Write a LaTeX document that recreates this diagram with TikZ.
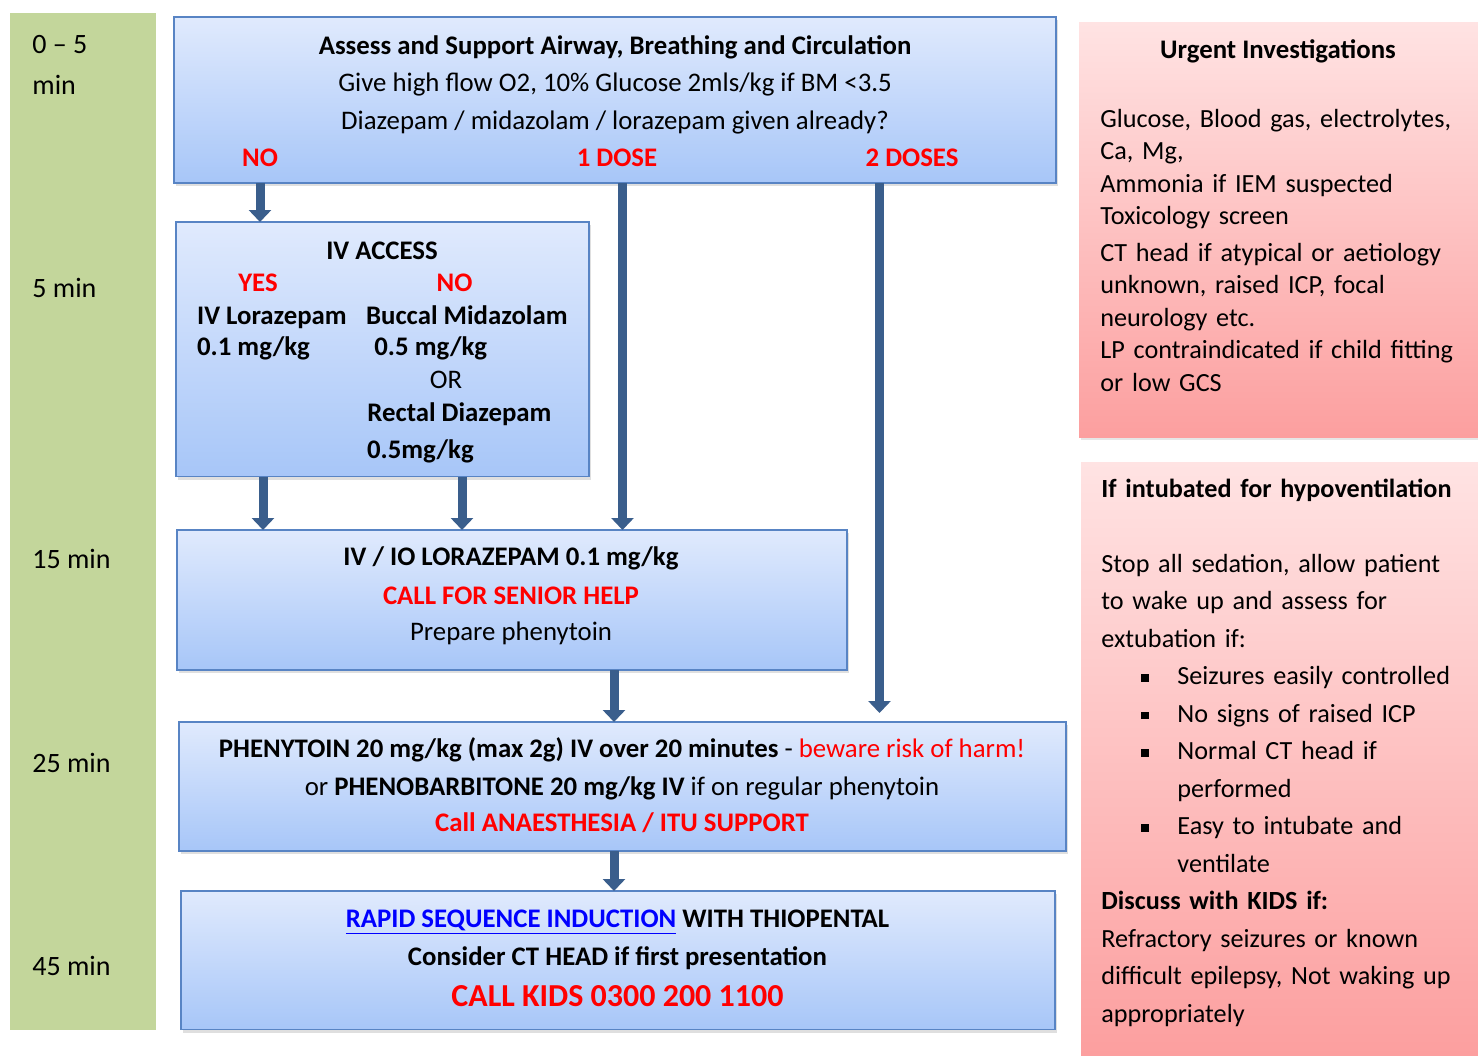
\documentclass[tikz,border=0pt]{standalone}
\usepackage{fontspec}
\setmainfont{Carlito}
\usetikzlibrary{arrows.meta,shadows}

\definecolor{timegreen}{HTML}{C3D69B}
\definecolor{boxtop}{HTML}{E0EAFD}
\definecolor{boxbot}{HTML}{A7C6F8}
\definecolor{boxline}{HTML}{5884C4}
\definecolor{pinktop}{HTML}{FFE3E3}
\definecolor{pinkbot}{HTML}{FC9F9F}
\definecolor{flowcol}{HTML}{3A5E8C}
\definecolor{alertred}{HTML}{FF0000}
\definecolor{linkblue}{HTML}{0000FF}

\newcommand{\sqbul}{\hspace*{20pt}\rule[1.4pt]{3.8pt}{3.8pt}\hspace*{14.2pt}}
\newcommand{\sqind}{\hspace*{38pt}}

\tikzset{
  stepbox/.style={draw=boxline, line width=0.8pt, top color=boxtop, bottom color=boxbot,
    anchor=north west, inner sep=0pt, outer sep=0pt,
    drop shadow={shadow xshift=1pt, shadow yshift=-1.5pt, opacity=0.25}},
  notebox/.style={top color=pinktop, bottom color=pinkbot,
    anchor=north west, inner sep=0pt, outer sep=0pt,
    drop shadow={shadow xshift=1pt, shadow yshift=-1.5pt, opacity=0.2}},
  flowarrow/.style={color=flowcol, line width=4.5pt, -{Triangle[width=11pt,length=6pt]}},
  txt/.style={inner sep=0pt, anchor=base, font=\fontsize{13.4}{16}\selectfont},
  txtl/.style={txt, anchor=base west},
  redtxt/.style={text=alertred},
  timetxt/.style={inner sep=0pt, anchor=base west, font=\fontsize{14}{16}\selectfont},
}

\begin{document}
\begin{tikzpicture}[x=0.5pt, y=-0.5pt]
            \useasboundingbox (0,0) rectangle (1478,1055);
            
            % Time column
            \fill [timegreen] (10,13) rectangle (156,1030);%
            \node [timetxt] (t0) at (32,53) {0 -- 5};%
            \node [timetxt] (t0b) at (32,94) {min};%
            \node [timetxt] (t5) at (32,297) {5 min};%
            \node [timetxt] (t15) at (32,568) {15 min};%
            \node [timetxt] (t25) at (32,772) {25 min};%
            \node [timetxt] (t45) at (32,975) {45 min};%
            
            % Drawing box ABC
            \node [stepbox, minimum width=441pt, minimum height=83pt] (abc) at (174,17) {};%
            \node [txt] (abcA) at (615,54) {\bfseries Assess and Support Airway, Breathing and Circulation};%
            \node [txt] (abcB) at (615,91.7) {Give high flow O2, 10\% Glucose 2mls/kg if BM <3.5};%
            \node [txt] (abcC) at (615,129) {Diazepam / midazolam / lorazepam given already?};%
            \node [txt, redtxt] (noLbl) at (260,166) {\bfseries NO};%
            \node [txt, redtxt] (oneLbl) at (617,166) {\bfseries 1 DOSE};%
            \node [txt, redtxt] (twoLbl) at (912,166) {\bfseries 2 DOSES};%
            
            % Drawing box IV access
            \node [stepbox, minimum width=206.5pt, minimum height=127.25pt] (iv) at (176,222) {};%
            \node [txt] (ivA) at (382,259) {\bfseries IV ACCESS};%
            \node [txt, redtxt] (yesLbl) at (258,291) {\bfseries YES};%
            \node [txt, redtxt] (ivNoLbl) at (454.5,291) {\bfseries NO};%
            \node [txtl] (ivLor) at (196.7,324) {\bfseries IV Lorazepam};%
            \node [txtl] (ivBuc) at (365.7,324) {\bfseries Buccal Midazolam};%
            \node [txtl] (ivLorD) at (196.7,355.7) {\bfseries 0.1 mg/kg};%
            \node [txtl] (ivBucD) at (374,355.7) {\bfseries 0.5 mg/kg};%
            \node [txt] (ivOr) at (446,388) {OR};%
            \node [txtl] (ivRec) at (367,421.7) {\bfseries Rectal Diazepam};%
            \node [txtl] (ivRecD) at (366.7,458) {\bfseries 0.5mg/kg};%
            
            % Drawing box lorazepam
            \node [stepbox, minimum width=335pt, minimum height=70pt] (lz) at (177,530) {};%
            \node [txt] (lzA) at (511,565) {\bfseries IV / IO LORAZEPAM 0.1 mg/kg};%
            \node [txt, redtxt] (lzB) at (511,604) {\bfseries CALL FOR SENIOR HELP};%
            \node [txt] (lzC) at (511,640) {Prepare phenytoin};%
            
            % Drawing box phenytoin
            \node [stepbox, minimum width=443.5pt, minimum height=64.5pt] (ph) at (179,722) {};%
            \node [txt] (phA) at (622,757.7) {\textbf{PHENYTOIN 20 mg/kg (max 2g) IV over 20 minutes} - \textcolor{alertred}{beware risk of harm!}};%
            \node [txt] (phB) at (622,795) {or \textbf{PHENOBARBITONE 20 mg/kg IV} if on regular phenytoin};%
            \node [txt, redtxt] (phC) at (622,831.7) {\bfseries Call ANAESTHESIA / ITU SUPPORT};%
            
            % Drawing box RSI
            \node [stepbox, minimum width=437pt, minimum height=69.25pt] (rsi) at (181,891) {};%
            \node [txt] (rsiA) at (617.5,927.7) {\bfseries \textcolor{linkblue}{\underline{RAPID SEQUENCE INDUCTION}} WITH THIOPENTAL};%
            \node [txt] (rsiB) at (617.5,965) {\bfseries Consider CT HEAD if first presentation};%
            \node [txt, redtxt, font=\fontsize{16}{18}\selectfont] (rsiC) at (617.5,1006.7) {\bfseries CALL KIDS 0300 200 1100};%
            
            % Drawing note urgent investigations
            \node [notebox, minimum width=199.5pt, minimum height=207.5pt] (inv) at (1079,22) {};%
            \node [txt] (invA) at (1278,58.3) {\bfseries Urgent Investigations};%
            \node [txtl, text width=190pt, align=left, font=\fontsize{13.1}{16.25}\selectfont] (invB) at (1100,127.3) {Glucose, Blood gas, electrolytes,\\
              Ca, Mg,\\
              Ammonia if IEM suspected\\
              Toxicology screen\\[2pt]
              CT head if atypical or aetiology\\
              unknown, raised ICP, focal\\
              neurology etc.\\
              LP contraindicated if child fitting\\
              or low GCS};%
            
            % Drawing note intubated
            \node [notebox, minimum width=198.5pt, minimum height=296.5pt] (intu) at (1081,462) {};%
            \node [txtl, text width=195pt, align=left, font=\fontsize{13.1}{18.75}\selectfont] (intuA) at (1101,497) {\textbf{If intubated for hypoventilation}\\[18.75pt]
              Stop all sedation, allow patient\\
              to wake up and assess for\\
              extubation if:\\
              \sqbul Seizures easily controlled\\
              \sqbul No signs of raised ICP\\
              \sqbul Normal CT head if\\
              \sqind performed\\
              \sqbul Easy to intubate and\\
              \sqind ventilate\\
              \textbf{Discuss with KIDS if:}\\
              Refractory seizures or known\\
              difficult epilepsy, Not waking up\\
              appropriately};%
            
            % Arrow positions
            \coordinate (xNo) at (260,0);%
            \coordinate (xOne) at (622.5,0);%
            \coordinate (xTwo) at (879.5,0);%
            \coordinate (xYes) at (263,0);%
            \coordinate (xIvNo) at (462,0);%
            \coordinate (xMid) at (614,0);%
            
            % Drawing arrows
            \draw [flowarrow] (xNo |- abc.south) -- (xNo |- iv.north);%
            \draw [flowarrow] (xOne |- abc.south) -- (xOne |- lz.north);%
            \draw [flowarrow, shorten >=4.5pt] (xTwo |- abc.south) -- (xTwo |- ph.north);%
            \draw [flowarrow] (xYes |- iv.south) -- (xYes |- lz.north);%
            \draw [flowarrow] (xIvNo |- iv.south) -- (xIvNo |- lz.north);%
            \draw [flowarrow] (xMid |- lz.south) -- (xMid |- ph.north);%
            \draw [flowarrow] (xMid |- ph.south) -- (xMid |- rsi.north);%
        \end{tikzpicture}
\end{document}
